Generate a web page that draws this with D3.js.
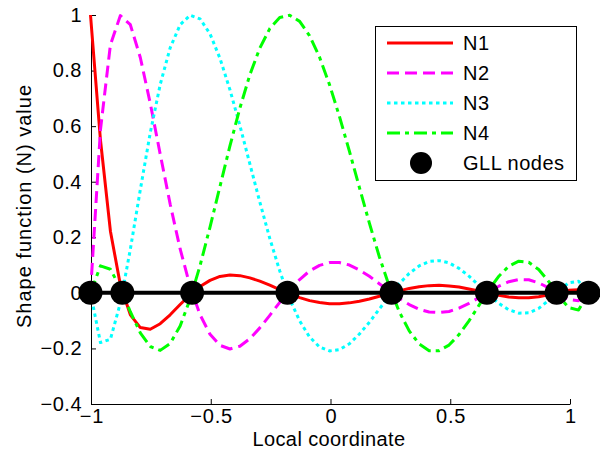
<!DOCTYPE html>
<html><head><meta charset="utf-8">
<script src="https://cdn.jsdelivr.net/npm/d3@7"></script>
<style>
body{margin:0;background:#fff;}
svg{display:block;font-family:"Liberation Sans",Arial,sans-serif;}
</style></head>
<body><svg id="c" width="600" height="466"></svg>
<script>
const xs = [-1,-0.96,-0.92,-0.88,-0.84,-0.8,-0.76,-0.72,-0.68,-0.64,-0.6,-0.56,-0.52,-0.48,-0.44,-0.4,-0.36,-0.32,-0.28,-0.24,-0.2,-0.16,-0.12,-0.08,-0.04,0,0.04,0.08,0.12,0.16,0.2,0.24,0.28,0.32,0.36,0.4,0.44,0.48,0.52,0.56,0.6,0.64,0.68,0.72,0.76,0.8,0.84,0.88,0.92,0.96,1];
const n1 = [1,0.55,0.222,0.028,-0.079,-0.125,-0.131,-0.111,-0.079,-0.042,-0.007,0.023,0.045,0.059,0.064,0.062,0.054,0.042,0.028,0.012,-0.003,-0.017,-0.028,-0.035,-0.039,-0.039,-0.036,-0.030,-0.022,-0.012,-0.002,0.007,0.016,0.022,0.026,0.027,0.025,0.021,0.014,0.007,-0.002,-0.009,-0.015,-0.018,-0.018,-0.014,-0.007,0.002,0.009,0.011,0];
const n2 = [0,0.587,0.893,0.998,0.965,0.847,0.682,0.499,0.319,0.158,0.024,-0.079,-0.149,-0.189,-0.202,-0.192,-0.165,-0.126,-0.081,-0.034,0.010,0.048,0.079,0.099,0.109,0.109,0.100,0.082,0.060,0.033,0.006,-0.020,-0.042,-0.059,-0.069,-0.071,-0.067,-0.055,-0.038,-0.017,0.004,0.024,0.040,0.048,0.047,0.036,0.018,-0.005,-0.024,-0.028,0];
const n3 = [0,-0.179,-0.167,-0.036,0.157,0.371,0.576,0.750,0.882,0.965,0.999,0.986,0.932,0.844,0.731,0.602,0.464,0.327,0.196,0.079,-0.022,-0.101,-0.159,-0.195,-0.209,-0.204,-0.183,-0.148,-0.106,-0.058,-0.011,0.033,0.070,0.097,0.113,0.116,0.108,0.088,0.060,0.027,-0.007,-0.038,-0.061,-0.073,-0.072,-0.056,-0.027,0.007,0.036,0.042,0];
const n4 = [0,0.097,0.085,0.017,-0.068,-0.144,-0.193,-0.207,-0.182,-0.119,-0.023,0.098,0.237,0.383,0.529,0.665,0.785,0.881,0.951,0.991,0.999,0.977,0.925,0.848,0.749,0.634,0.509,0.379,0.251,0.130,0.023,-0.068,-0.137,-0.184,-0.208,-0.208,-0.188,-0.150,-0.101,-0.045,0.011,0.060,0.096,0.114,0.110,0.084,0.041,-0.011,-0.053,-0.062,0];
const nodesX = [-1,-0.872,-0.592,-0.209,0.209,0.592,0.872,1];
const nodesY = [0,0,0,0,0,0,0,0];
const xTicks = [-1,-0.5,0,0.5,1];
const yTicks = [-0.4,-0.2,0,0.2,0.4,0.6,0.8,1];
const seriesNames = ["N1","N2","N3","N4"];
const nodeName = "GLL nodes";
const xTitle = "Local coordinate";
const yTitle = "Shape function (N) value";

const svg = d3.select("#c");
const fs = 20;

const xAxisScale = d3.scaleLinear().domain([-1,1]).range([91,570]);
const xData = d3.scaleLinear().domain([-1,1]).range([90.5,588.5]);
const y = d3.scaleLinear().domain([-0.4,1]).range([404,15]);

const series = [
  {name:seriesNames[0], vals:n1, color:"#ff0000", dash:null},
  {name:seriesNames[1], vals:n2, color:"#ff00ff", dash:"12,6"},
  {name:seriesNames[2], vals:n3, color:"#00ffff", dash:"3.5,3.5"},
  {name:seriesNames[3], vals:n4, color:"#00ff00", dash:"13,5,4,5"}
];

const gx = svg.append("g").attr("transform","translate(0,404)")
  .call(d3.axisBottom(xAxisScale).tickValues(xTicks).tickSizeInner(-5).tickSizeOuter(0).tickPadding(5).tickFormat(d3.format("")));
const gy = svg.append("g").attr("transform","translate(91,0)")
  .call(d3.axisLeft(y).tickValues(yTicks).tickSizeInner(-5).tickSizeOuter(0).tickPadding(9).tickFormat(d3.format("")));
[gx,gy].forEach(g=>{
  g.select(".domain").attr("stroke","#000").attr("stroke-width",1);
  g.selectAll(".tick line").attr("stroke","#000");
  g.selectAll("text").attr("font-size",fs).attr("fill","#000").attr("font-family","Liberation Sans, Arial, sans-serif");
});
gx.selectAll("text").style("letter-spacing","0.8px").attr("dx","0.4px");
gy.selectAll("text").style("letter-spacing","0.5px");

const line = d3.line().x((d,i)=>xData(xs[i])).y(d=>y(d));
series.forEach(s=>{
  svg.append("path").datum(s.vals).attr("d",line)
    .attr("fill","none").attr("stroke",s.color).attr("stroke-width",3)
    .attr("stroke-dasharray",s.dash).attr("stroke-linejoin","round");
});

svg.append("path").datum(nodesY).attr("d",d3.line().x((d,i)=>xData(nodesX[i])).y(d=>y(d)))
  .attr("stroke","#000").attr("stroke-width",4).attr("fill","none");
svg.selectAll("circle.node").data(nodesX).enter().append("circle")
  .attr("cx",d=>xData(d)).attr("cy",(d,i)=>y(nodesY[i])).attr("r",12).attr("fill","#000");

svg.append("text").attr("x",329).attr("y",446).attr("text-anchor","middle")
  .attr("font-size",fs).style("letter-spacing","0.4px").text(xTitle);
svg.append("text").attr("transform","translate(31,206) rotate(-90)").attr("text-anchor","middle")
  .attr("font-size",fs).style("letter-spacing","1px").text(yTitle);

const lg = svg.append("g");
lg.append("rect").attr("x",375.5).attr("y",26.5).attr("width",201).attr("height",154)
  .attr("fill","#fff").attr("stroke","#000").attr("stroke-width",1);
const rowY = [43,73,103,133,163];
series.forEach((s,i)=>{
  lg.append("line").attr("x1",387).attr("x2",453).attr("y1",rowY[i]).attr("y2",rowY[i])
    .attr("stroke",s.color).attr("stroke-width",3).attr("stroke-dasharray",s.dash);
  lg.append("text").attr("x",463).attr("y",rowY[i]).attr("dy","0.36em").attr("font-size",fs)
    .style("letter-spacing","0.5px").text(s.name);
});
lg.append("circle").attr("cx",421).attr("cy",rowY[4]).attr("r",11).attr("fill","#000");
lg.append("text").attr("x",463).attr("y",rowY[4]).attr("dy","0.36em").attr("font-size",fs)
  .style("letter-spacing","0.5px").text(nodeName);
</script></body></html>
